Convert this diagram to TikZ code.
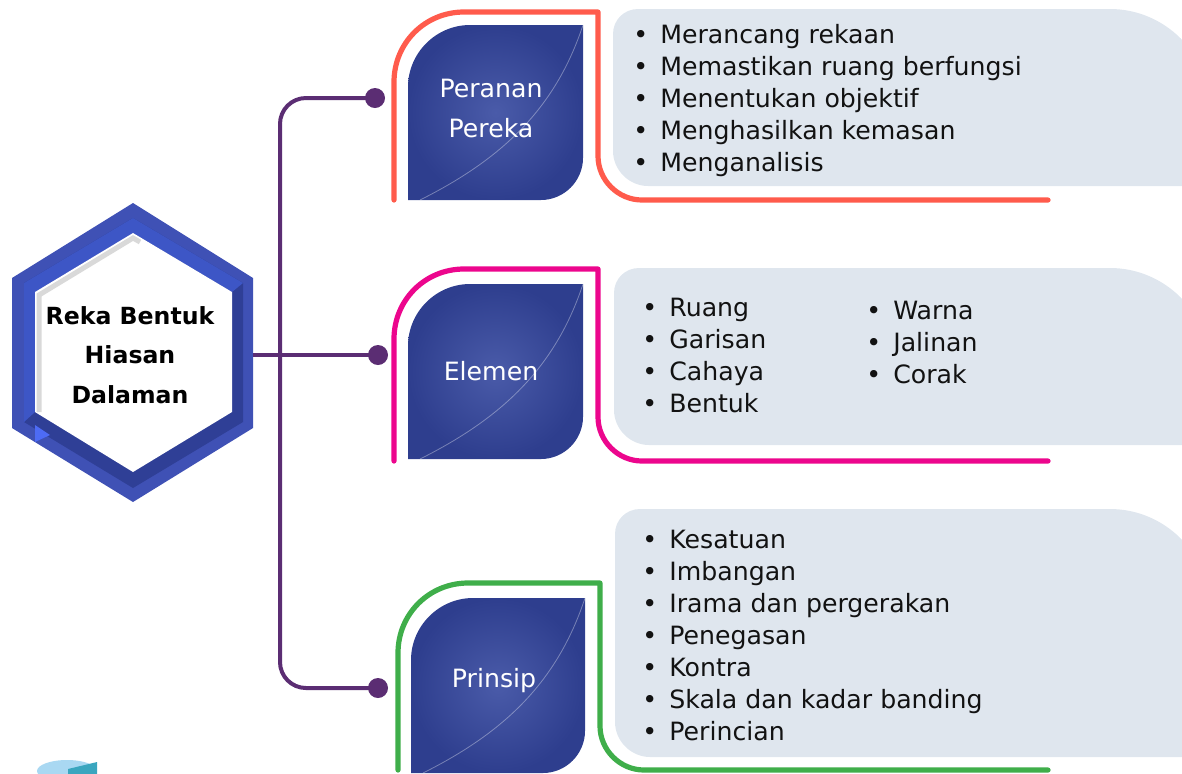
\documentclass[tikz,border=0pt]{standalone}
\usepackage{fontspec}
\setmainfont{DejaVu Sans}
\usepackage{tikz}
\usetikzlibrary{calc}
\definecolor{HexBlue}{HTML}{3F51B5}
\definecolor{HexBright}{HTML}{3D56C6}
\definecolor{HexDark}{HTML}{2F3F96}
\definecolor{HexEdge}{HTML}{D9D9D9}
\definecolor{HexTip}{HTML}{4D6BF5}
\definecolor{LeafLight}{HTML}{4A5BA9}
\definecolor{LeafDark}{HTML}{2E3E8E}
\definecolor{PanelGrey}{HTML}{DFE6EE}
\definecolor{TrunkPurple}{HTML}{5B2D73}
\definecolor{FrameRed}{HTML}{FF5B4C}
\definecolor{FramePink}{HTML}{EC068D}
\definecolor{FrameGreen}{HTML}{3FAE4A}
\definecolor{PieLight}{HTML}{A9D8F2}
\definecolor{PieTeal}{HTML}{3AA6BF}
\newcommand{\leafpath}[4]{(#1,#4) -- (#1,#2+62) .. controls (#1,#2+28) and (#1+28,#2) .. (#1+62,#2) -- (#3,#2) -- (#3,#4-42) .. controls (#3,#4-19) and (#3-19,#4) .. (#3-42,#4) -- cycle}
\newcommand{\framepath}[4]{(#1,#4) -- (#1,#2+70) .. controls (#1,#2+31) and (#1+31,#2) .. (#1+70,#2) -- (#3,#2) -- (#3,#4-44) .. controls (#3,#4-20) and (#3+20,#4) .. (#3+44,#4) -- (1048,#4)}
\newcommand{\panelpath}[3]{(#1+25,#2) -- (1110,#2) .. controls (1165,#2) and (1210,#2+45) .. (1210,#2+100) -- (1210,#3) -- (#1+35,#3) .. controls (#1+16,#3) and (#1,#3-16) .. (#1,#3-35) -- (#1,#2+25) .. controls (#1,#2+11) and (#1+11,#2) .. (#1+25,#2) -- cycle}
\newcommand{\itm}{\textbullet\hspace{0.48em}}
\tikzset{
  hubtext/.style={align=center,font=\bfseries\fontsize{11.8}{19.8}\selectfont,text=black,inner sep=0pt,minimum width=123pt,minimum height=140pt},
  leaflabel/.style={align=center,text=white,font=\fontsize{12.6}{20}\selectfont,inner sep=0pt},
  leaffill/.style={inner color=LeafLight,outer color=LeafDark},
  leafvein/.style={draw=white,draw opacity=0.35,line width=0.4pt},
  frameline/.style={line width=2.6pt,line cap=round,line join=round},
  panel/.style={fill=PanelGrey},
  listtext/.style={align=left,anchor=north west,inner sep=0pt,text=black!93,font=\fontsize{12.6}{16}\selectfont},
  trunk/.style={draw=TrunkPurple,line width=2pt,rounded corners=13pt},
  knob/.style={circle,fill=TrunkPurple,inner sep=0pt,minimum size=10pt}
}
\begin{document}
\begin{tikzpicture}[x=0.5pt,y=-0.5pt]
\useasboundingbox (0,0) rectangle (1182,773);
\clip (0,0) rectangle (1182,773);
\fill[panel] \panelpath{613}{9}{186};
\fill[panel] \panelpath{614}{268}{445};
\fill[panel] \panelpath{615}{509}{757};
\draw[frameline,FrameRed] \framepath{394}{12}{598}{200};
\draw[frameline,FramePink] \framepath{394}{269}{598}{461};
\draw[frameline,FrameGreen] \framepath{398}{583}{600}{770};
\shade[leaffill] \leafpath{408}{25}{583}{200};
\shade[leaffill] \leafpath{408}{284}{583}{459};
\shade[leaffill] \leafpath{411}{598}{585}{773};
\draw[leafvein] (420,200) .. controls (500,160) and (555,110) .. (583,25);
\draw[leafvein] (420,459) .. controls (500,419) and (555,369) .. (583,284);
\draw[leafvein] (423,773) .. controls (503,733) and (557,683) .. (585,598);
\node[leaflabel] (peranan) at (491,108) {Peranan\\Pereka};
\node[leaflabel] (elemen) at (491,371) {Elemen};
\node[leaflabel] (prinsip) at (494,681) {Prinsip};
\node[listtext] (perananlist) at (633,24) {\itm Merancang rekaan\\\itm Memastikan ruang berfungsi\\\itm Menentukan objektif\\\itm Menghasilkan kemasan\\\itm Menganalisis};
\node[listtext] (elemenlistA) at (642,298) {\itm Ruang\\\itm Garisan\\\itm Cahaya\\\itm Bentuk};
\node[listtext] (elemenlistB) at (866,301) {\itm Warna\\\itm Jalinan\\\itm Corak};
\node[listtext] (prinsiplist) at (642,530) {\itm Kesatuan\\\itm Imbangan\\\itm Irama dan pergerakan\\\itm Penegasan\\\itm Kontra\\\itm Skala dan kadar banding\\\itm Perincian};
\fill[HexBlue] (133,203) -- (253,278) -- (253,428) -- (133,502) -- (12,428) -- (12,278) -- cycle;
\fill[HexDark] (133,218) -- (243,283) -- (243,422) -- (133,488) -- (24,422) -- (24,283) -- cycle;
\fill[HexBright] (24,422) -- (24,283) -- (133,218) -- (243,283) -- (232,292) -- (133,233) -- (35,292) -- (35,412) -- cycle;
\fill[white] (133,233) -- (232,292) -- (232,412) -- (133,472) -- (35,412) -- (35,292) -- cycle;
\draw[HexEdge,line width=2.5pt] (39,412) -- (39,295) -- (133,238) -- (140,242);
\fill[HexTip] (35,425) -- (50,435) -- (35,442) -- cycle;
\node[hubtext] (hub) at (130,355) {Reka Bentuk\\Hiasan\\Dalaman};
\node[knob] (knobA) at (375,98) {};
\node[knob] (knobB) at (378,355) {};
\node[knob] (knobC) at (378,688) {};
\coordinate (fork) at (280,355);
\draw[trunk] (knobA.center) -| (fork) |- (knobC.center);
\draw[trunk] (hub.east) -- (knobB.center);
\fill[PieLight] (67,771) ellipse [x radius=30,y radius=11];
\fill[PieTeal] (68,769) -- (97,762) -- (97,775) -- (68,775) -- cycle;
\end{tikzpicture}
\end{document}
